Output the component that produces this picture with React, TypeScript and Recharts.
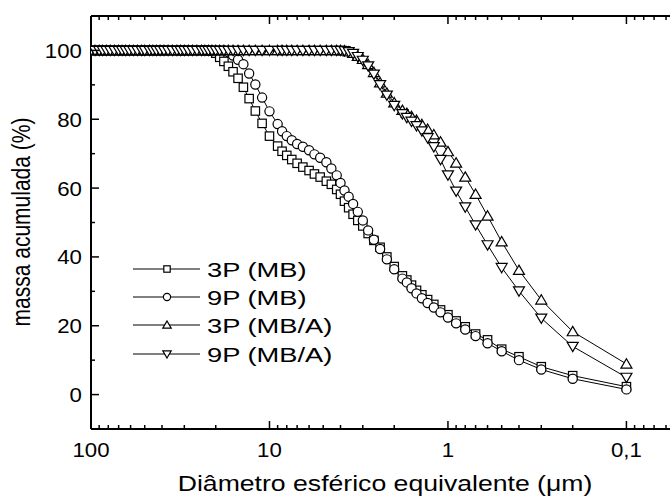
import React from 'react';
import { LineChart, Line, XAxis, YAxis } from 'recharts';

// diâmetro esférico equivalente (µm), do maior para o menor
const diameters = [
  100, 95, 90, 86, 82, 78, 74, 70, 67, 64,
  61, 58, 55, 52, 50, 47, 45, 43, 41, 39,
  37, 35, 33, 31.5, 30, 28.5, 27, 25.5, 24, 23,
  22, 21, 20, 19, 18, 17, 16, 15, 14, 13,
  12, 11, 10, 9, 8.5, 8, 7.5, 7, 6.5, 6,
  5.6, 5.2, 4.8, 4.5, 4.2, 4.0, 3.8, 3.6, 3.4, 3.2,
  3.0, 2.8, 2.6, 2.4, 2.2, 2.0, 1.8, 1.7, 1.6, 1.5,
  1.4, 1.3, 1.2, 1.1, 1.0, 0.9, 0.8, 0.7, 0.6, 0.5,
  0.4, 0.3, 0.2, 0.1,
];

// massa acumulada (%)
const mb3 = [
  100, 100, 100, 100, 100, 100, 100, 100, 100, 100,
  100, 100, 100, 100, 100, 100, 100, 100, 100, 100,
  100, 100, 100, 100, 100, 100, 100, 100, 100, 100,
  100, 99.8, 99.2, 98, 96.8, 95.4, 93.8, 91.9, 89.3, 86,
  82.4, 78.8, 75.1, 72.2, 70.7, 69.5, 68.3, 67.2, 66.1, 65.1,
  64.1, 63.2, 62.0, 61.1, 59.6, 58.2, 56.2, 54.3, 52.4, 50.6,
  49.0, 46.8, 44.8, 42.8, 40.0, 37.2, 34.5, 33.3, 31.8, 30.3,
  29.0, 27.6, 26.2, 24.6, 23.2, 21.4, 19.7, 17.6, 15.9, 13.2,
  11.0, 8.1, 5.5, 2.3,
];

const mb9 = [
  100, 100, 100, 100, 100, 100, 100, 100, 100, 100,
  100, 100, 100, 100, 100, 100, 100, 100, 100, 100,
  100, 100, 100, 100, 100, 100, 100, 100, 100, 100,
  100, 100, 100, 100, 100, 99.5, 98.5, 97.3, 96, 93.3,
  90.1, 86.3, 82.3, 78.6, 76.5, 75.1, 73.9, 72.8, 72.0, 71.0,
  69.8, 68.8, 67.5, 65.7, 63.7, 61.5, 59.3, 57.5, 55.4, 53.1,
  50.6, 47.7, 45.0, 42.3, 39.3, 36.4, 33.7, 32.6, 30.9, 29.4,
  28.0, 26.6, 25.3, 23.9, 22.4, 20.7, 18.9, 17.0, 14.9, 12.6,
  10.0, 7.3, 4.6, 1.5,
];

const mba3 = [
  100, 100, 100, 100, 100, 100, 100, 100, 100, 100,
  100, 100, 100, 100, 100, 100, 100, 100, 100, 100,
  100, 100, 100, 100, 100, 100, 100, 100, 100, 100,
  100, 100, 100, 100, 100, 100, 100, 100, 100, 100,
  100, 100, 100, 100, 100, 100, 100, 100, 100, 100,
  100, 100, 100, 100, 100, 100, 99.9, 99.6, 99.2, 98.3,
  97.4, 95.9, 93.6, 90.6, 87.6, 84.8, 82.6, 81.7, 80.8, 79.7,
  78.5, 77.1, 75.5, 73.4, 70.6, 67.3, 63.2, 58.2, 51.9, 44.4,
  36.1, 27.5, 18.3, 8.9,
];

const mba9 = [
  100, 100, 100, 100, 100, 100, 100, 100, 100, 100,
  100, 100, 100, 100, 100, 100, 100, 100, 100, 100,
  100, 100, 100, 100, 100, 100, 100, 100, 100, 100,
  100, 100, 100, 100, 100, 100, 100, 100, 100, 100,
  100, 100, 100, 100, 100, 100, 100, 100, 100, 100,
  100, 100, 100, 100, 100, 100, 99.9, 99.6, 99.1, 98.2,
  97.1, 95.5, 93.1, 90.0, 87.0, 84.0, 81.6, 80.5, 79.4, 78.1,
  76.6, 74.6, 72.0, 68.3, 63.8, 59.1, 54.5, 49.3, 43.5, 36.9,
  30.1, 22.2, 14.0, 5.0,
];

const seriesNames = ['3P (MB)', '9P (MB)', '3P (MB/A)', '9P (MB/A)'];

const majorX = [100, 10, 1, 0.1];
const majorXLabels = ['100', '10', '1', '0,1'];
const minorX = [
  90, 80, 70, 60, 50, 40, 30, 20,
  9, 8, 7, 6, 5, 4, 3, 2,
  0.9, 0.8, 0.7, 0.6, 0.5, 0.4, 0.3, 0.2,
  0.09, 0.08, 0.07, 0.06,
];
const majorY = [0, 20, 40, 60, 80, 100];
const minorY = [10, 30, 50, 70, 90];

const data = diameters.map((d, i) => ({
  d,
  mb3: mb3[i],
  mb9: mb9[i],
  mba3: mba3[i],
  mba9: mba9[i],
}));

const FONT = '"Liberation Sans", Arial, Helvetica, sans-serif';

// marcadores
const square = (p: any, s = 4.2) => (
  <rect key={p.key ?? p.index} x={p.cx - s} y={p.cy - s} width={s * 2} height={s * 2}
    fill="#fff" stroke="#000" strokeWidth={1.2} />
);
const circle = (p: any, r = 4.6) => (
  <circle key={p.key ?? p.index} cx={p.cx} cy={p.cy} r={r} fill="#fff" stroke="#000" strokeWidth={1.2} />
);
const triUp = (p: any, s = 5.5) => (
  <path key={p.key ?? p.index}
    d={`M${p.cx},${p.cy - s * 0.95} L${p.cx + s},${p.cy + s * 0.75} L${p.cx - s},${p.cy + s * 0.75} Z`}
    fill="#fff" stroke="#000" strokeWidth={1.2} />
);
const triDown = (p: any, s = 5.5) => (
  <path key={p.key ?? p.index}
    d={`M${p.cx},${p.cy + s * 0.95} L${p.cx + s},${p.cy - s * 0.75} L${p.cx - s},${p.cy - s * 0.75} Z`}
    fill="#fff" stroke="#000" strokeWidth={1.2} />
);
const markers = [square, circle, triUp, triDown];

const XTick = (props: any) => {
  const { x, payload, top } = props;
  const y = top ? 16 : 429;
  const i = majorX.indexOf(payload.value);
  const len = i >= 0 ? 8 : 4;
  return (
    <g>
      <line x1={x} x2={x} y1={y} y2={top ? y + len : y - len} stroke="#000" strokeWidth={1.5} />
      {!top && i >= 0 && (
        <text transform={`translate(${x},${y + 28}) scale(1.06,1)`} textAnchor="middle"
          fontSize={21} fontFamily={FONT} fill="#000">
          {majorXLabels[i]}
        </text>
      )}
    </g>
  );
};

const YTick = (props: any) => {
  const { y, payload } = props;
  const x = 91;
  const major = majorY.includes(payload.value);
  return (
    <g>
      <line x1={x} x2={x + (major ? 8 : 4)} y1={y} y2={y} stroke="#000" strokeWidth={1.5} />
      {major && (
        <text transform={`translate(${x - 9},${y + 7.5}) scale(1.06,1)`} textAnchor="end"
          fontSize={21} fontFamily={FONT} fill="#000">
          {payload.value}
        </text>
      )}
    </g>
  );
};

const legendRows = [269, 297, 325, 354];

export default function App() {
  return (
    <div style={{ position: 'absolute', left: 0, top: 0, width: 670, height: 501, overflow: 'hidden', background: '#fff', fontFamily: FONT }}>
      <LineChart width={680} height={501} data={data} margin={{ top: 6, right: 10, bottom: 32, left: 31 }}>
        <XAxis dataKey="d" type="number" scale="log" domain={[0.057, 100]} reversed allowDataOverflow
          ticks={[...majorX, ...minorX]} interval={0} height={40} tickSize={0} tickMargin={0}
          tickLine={false} axisLine={{ stroke: '#000', strokeWidth: 2 }} tick={<XTick />} />
        <XAxis xAxisId="top" orientation="top" dataKey="d" type="number" scale="log" domain={[0.057, 100]}
          reversed allowDataOverflow ticks={[...majorX, ...minorX]} interval={0} height={10} tickSize={0}
          tickMargin={0} tickLine={false} axisLine={{ stroke: '#000', strokeWidth: 2 }} tick={<XTick top />} />
        <YAxis type="number" domain={[-10, 110]} allowDataOverflow ticks={[...majorY, ...minorY]} interval={0}
          width={60} tickSize={0} tickMargin={0} tickLine={false} axisLine={{ stroke: '#000', strokeWidth: 2 }}
          tick={<YTick />} />
        {['mb3', 'mb9', 'mba3', 'mba9'].map((k, i) => (
          <Line key={k} dataKey={k} type="linear" stroke="#000" strokeWidth={1} isAnimationActive={false}
            activeDot={false} dot={(p: any) => markers[i](p)} />
        ))}
      </LineChart>
      <svg width={670} height={501} style={{ position: 'absolute', left: 0, top: 0, pointerEvents: 'none' }}>
        {seriesNames.map((name, i) => {
          const cy = legendRows[i];
          return (
            <g key={name}>
              <line x1={133} x2={200} y1={cy} y2={cy} stroke="#000" strokeWidth={1} />
              {markers[i]({ cx: 167, cy, key: 'm' + i }, i === 0 ? 3.2 : i === 1 ? 3.6 : 4.2)}
              <text transform={`translate(207,${cy + 7.5}) scale(1.3,1)`} fontSize={21} fontFamily={FONT} fill="#000">
                {name}
              </text>
            </g>
          );
        })}
        <text transform="translate(385,491) scale(1.21,1)" textAnchor="middle" fontSize={22} fontFamily={FONT} fill="#000">
          Diâmetro esférico equivalente (μm)
        </text>
        <text transform="translate(30,222) scale(1.27,1) rotate(-90)" textAnchor="middle" fontSize={21} fontFamily={FONT} fill="#000">
          massa acumulada (%)
        </text>
      </svg>
    </div>
  );
}
